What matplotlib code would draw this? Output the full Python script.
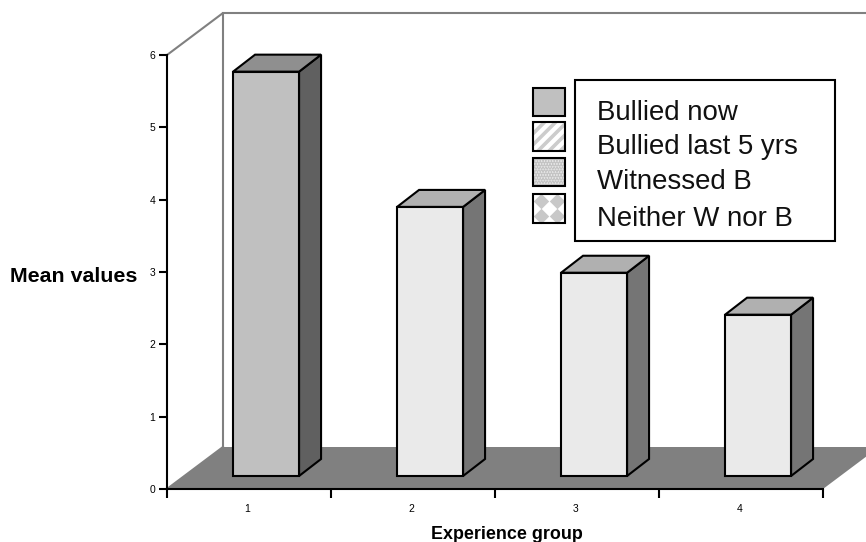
import matplotlib
matplotlib.use("Agg")
import matplotlib.pyplot as plt
from matplotlib.patches import Polygon, Rectangle

plt.rcParams['font.family'] = ['Liberation Sans', 'DejaVu Sans']
plt.rcParams['hatch.linewidth'] = 2.6

categories = [1, 2, 3, 4]
values = [5.59, 3.72, 2.81, 2.23]
front_colors = ['#c0c0c0', '#eaeaea', '#eaeaea', '#eaeaea']
top_colors = ['#8f8f8f', '#b0b0b0', '#b0b0b0', '#b0b0b0']
side_colors = ['#606060', '#757575', '#757575', '#757575']
legend_labels = ['Bullied now', 'Bullied last 5 yrs', 'Witnessed B', 'Neither W nor B']
y_ticks = [0, 1, 2, 3, 4, 5, 6]

W, H = 866, 542
fig = plt.figure(figsize=(W / 100, H / 100), dpi=100)
ax = fig.add_axes([167 / W, (H - 489) / H, 656 / W, 434 / H])
ax.set_xlim(0, 4)
ax.set_ylim(0, 6)
ax.patch.set_alpha(0)

FX, FY = 56 / 164, 42 / 72.33   # depth of floor/wall
DX, DY = 22 / 164, 17 / 72.33   # depth of bars
BASE = 13 / 72.33
WIDTH = 66 / 164
SHIFT = 0.104

# walls and floor
ax.add_patch(Polygon([(0, 0), (4, 0), (4 + FX, FY), (FX, FY)], closed=True,
                     fc='#808080', ec='none', clip_on=False, zorder=1))
grey = dict(color='#808080', lw=1.5, clip_on=False, zorder=1.5, solid_capstyle='projecting')
ax.plot([0, FX, FX], [6, 6 + FY, FY], **grey)
ax.plot([FX, 4.3], [6 + FY, 6 + FY], **grey)
ax.plot([0, FX], [0, FY], **grey)

# bars
for i, v in enumerate(values):
    c = i + 0.5 + SHIFT
    l, r = c - WIDTH / 2, c + WIDTH / 2
    t = BASE + v
    kw = dict(closed=True, ec='black', lw=1.5, joinstyle='miter', clip_on=False, zorder=3)
    ax.add_patch(Polygon([(r, BASE), (r + DX, BASE + DY), (r + DX, t + DY), (r, t)],
                         fc=side_colors[i], **kw))
    ax.add_patch(Polygon([(l, t), (r, t), (r + DX, t + DY), (l + DX, t + DY)],
                         fc=top_colors[i], **kw))
    ax.bar(c, v, WIDTH, bottom=BASE, color=front_colors[i], edgecolor='black',
           linewidth=1.5, clip_on=False, zorder=3.5)

# axes
for s in ('top', 'right'):
    ax.spines[s].set_visible(False)
for s in ('left', 'bottom'):
    ax.spines[s].set_linewidth(1.5)
    ax.spines[s].set_zorder(4)
ax.set_yticks(y_ticks)
ax.set_xticks(range(5))
ax.set_xticklabels([])
ax.set_xticks([i + 0.49 for i in range(4)], minor=True)
ax.set_xticklabels(categories, minor=True, fontsize=7.5)
ax.tick_params(axis='y', length=5.8, width=1.5, labelsize=7.5, pad=2.5)
ax.tick_params(axis='x', which='major', length=6.5, width=1.5)
ax.tick_params(axis='x', which='minor', length=0, pad=10.5)

def px(x, y):
    return x / W, 1 - y / H

fig.text(*px(10, 276), 'Mean values', fontsize=15.4, fontweight='bold', va='center', ha='left')
fig.text(*px(507, 539), 'Experience group', fontsize=12.9, fontweight='bold', va='baseline', ha='center')

# legend
ov = fig.add_axes([0, 0, 1, 1])
ov.set_xlim(0, W)
ov.set_ylim(H, 0)
ov.axis('off')
ov.patch.set_alpha(0)
ov.add_patch(Rectangle((575, 80), 260, 161, fc='white', ec='black', lw=1.5))
swatches = [(533, 88, 32, 28), (533, 122, 32, 29), (533, 158, 32, 28), (533, 194, 32, 29)]
ys = [113, 147, 182, 219]
for lab, y in zip(legend_labels, ys):
    ov.text(597, y, lab, fontsize=19.9, va='center', ha='left', color='#111111')
ov.add_patch(Rectangle(swatches[0][:2], *swatches[0][2:], fc='#c0c0c0', ec='black', lw=1.5))
ov.add_patch(Rectangle(swatches[1][:2], *swatches[1][2:], fc='white', ec='#cccccc', hatch='///', lw=0))
ov.add_patch(Rectangle(swatches[1][:2], *swatches[1][2:], fc='none', ec='black', lw=1.5))
ov.add_patch(Rectangle(swatches[2][:2], *swatches[2][2:], fc='#ececec', ec='#c4c4c4', hatch='......', lw=0))
ov.add_patch(Rectangle(swatches[2][:2], *swatches[2][2:], fc='none', ec='black', lw=1.5))
ov.add_patch(Rectangle(swatches[3][:2], *swatches[3][2:], fc='white', ec='none'))
x0, y0, w, h = swatches[3]
ov.scatter([x0 + 8, x0 + 24, x0 + 8, x0 + 24],
           [y0 + 7, y0 + 7, y0 + 22, y0 + 22],
           marker='D', s=62, c='#c8c8c8', linewidths=0)
ov.add_patch(Rectangle((x0, y0), w, h, fc='none', ec='black', lw=1.5))

fig.savefig('out.png', dpi=100)
